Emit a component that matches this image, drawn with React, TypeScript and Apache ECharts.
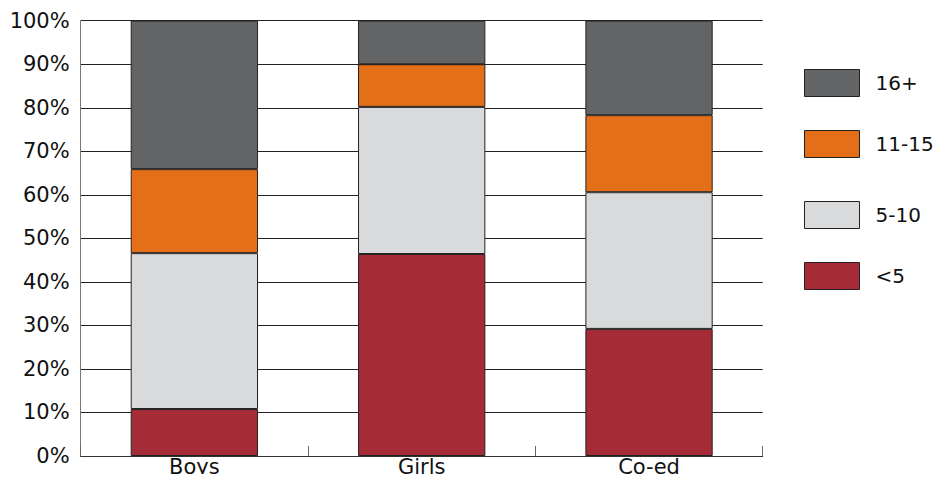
import React, { useEffect, useRef } from "react";
import * as echarts from "echarts";

const categories = ["Boys", "Girls", "Co-ed"];
const under5 = [10.8, 46.4, 29.2];
const from5to10 = [35.8, 33.8, 31.4];
const from11to15 = [19.3, 9.8, 17.7];
const over16 = [34.1, 10.0, 21.7];
const seriesNames = ["<5", "5-10", "11-15", "16+"];
const colors = ["#A52C37", "#D9DADB", "#E37019", "#636466"];
const yTicks = [0, 10, 20, 30, 40, 50, 60, 70, 80, 90, 100];
const legendOrder = ["16+", "11-15", "5-10", "<5"];

export default function App() {
  const ref = useRef<HTMLDivElement>(null);
  useEffect(() => {
    if (!ref.current) return;
    const chart = echarts.init(ref.current, null, { renderer: "svg" });
    const font = "DejaVu Sans";
    const dataSets = [under5, from5to10, from11to15, over16];
    const legendTops = [69, 130, 201, 262];
    chart.setOption({
      animation: false,
      textStyle: { fontFamily: font },
      grid: { left: 80.7, top: 20.7, right: 180.3, bottom: 26, containLabel: false },
      legend: legendOrder.map((name, i) => ({
        orient: "vertical",
        left: 804,
        top: legendTops[i],
        padding: 0,
        itemWidth: 55,
        itemHeight: 27,
        data: [name],
        icon: "rect",
        selectedMode: false,
        itemStyle: { borderColor: "#222", borderWidth: 1 },
        textStyle: { fontSize: 20, color: "#111", fontFamily: font, padding: [0, 0, 0, 11] },
      })),
      xAxis: {
        type: "category",
        data: categories,
        axisLine: { show: true, lineStyle: { color: "#333", width: 1 } },
        axisTick: { show: true, inside: true, length: 10, alignWithLabel: false, lineStyle: { color: "#666" } },
        axisLabel: { fontSize: 21, color: "#111", margin: 0, fontFamily: font },
      },
      yAxis: {
        type: "value",
        min: 0,
        max: 100,
        interval: 10,
        axisLine: { show: true, lineStyle: { color: "#777", width: 1 } },
        axisTick: { show: false },
        splitLine: { show: true, lineStyle: { color: "#222", width: 1 } },
        axisLabel: {
          fontSize: 21,
          color: "#111",
          margin: 11,
          fontFamily: font,
          formatter: (v: number) => (yTicks.includes(v) ? v + "%" : ""),
        },
      },
      series: seriesNames.map((name, i) => ({
        name,
        type: "bar",
        stack: "total",
        barWidth: "56%",
        data: dataSets[i],
        itemStyle: { color: colors[i], borderColor: "#222", borderWidth: 1 },
      })),
    });
    return () => chart.dispose();
  }, []);
  return <div ref={ref} style={{ width: 943, height: 482, margin: -8 }} />;
}
